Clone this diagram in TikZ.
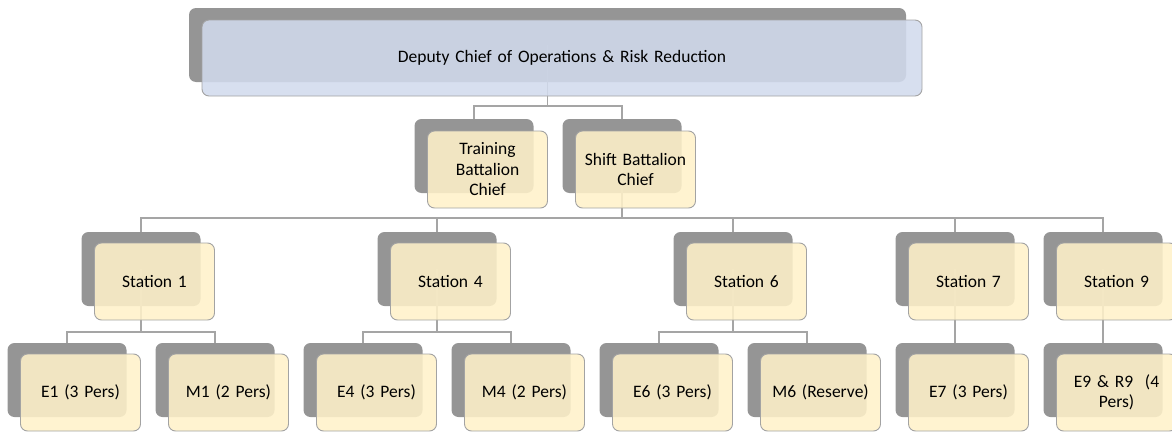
\documentclass[tikz,border=0pt]{standalone}
\usepackage{fontspec}
\setmainfont{Carlito}
\usetikzlibrary{calc}
\definecolor{backgray}{HTML}{959595}
\definecolor{edgegray}{HTML}{A3A3A3}
\definecolor{linegray}{HTML}{A5A5A5}
\definecolor{paleyellow}{HTML}{FFF1C9}
\definecolor{paleblue}{HTML}{D1DAED}
\tikzset{
  backbox/.style={fill=backgray, draw=none, rounded corners=7pt, minimum width=119pt, minimum height=74pt, inner sep=0pt},
  frontbox/.style={fill=paleyellow, fill opacity=0.87, text opacity=1, draw=edgegray, line width=0.9pt, rounded corners=7pt,
     minimum width=120pt, minimum height=77pt, inner sep=2pt, align=center, text width=106pt,
     font=\fontsize{17.5}{20.5}\selectfont},
  conn/.style={draw=linegray, line width=1.3pt},
}
\begin{document}
\begin{tikzpicture}[x=1pt,y=-1pt]
\path[use as bounding box, clip] (0,0) rectangle (1172,431);
% ---- back (shadow) boxes ----
\node[backbox, minimum width=717pt] (topb) at (547.5,45) {};
\node[backbox] (trb) at (474,156) {};
\node[backbox] (shb) at (622,156) {};
\node[backbox] (s1b) at (141,269) {};
\node[backbox] (s4b) at (437,269) {};
\node[backbox] (s6b) at (733,269) {};
\node[backbox] (s7b) at (955,269) {};
\node[backbox] (s9b) at (1103,269) {};
\node[backbox] (e1b) at (67,380) {};
\node[backbox] (m1b) at (215,380) {};
\node[backbox] (e4b) at (363,380) {};
\node[backbox] (m4b) at (511,380) {};
\node[backbox] (e6b) at (659,380) {};
\node[backbox] (m6b) at (807,380) {};
\node[backbox] (e7b) at (955,380) {};
\node[backbox] (e9b) at (1103,380) {};
% ---- connectors ----
\draw[conn] (topb.center) |- (trb.north |- 0,106) -- (trb.north);
\draw[conn] (topb.center) |- (shb.north |- 0,106) -- (shb.north);
\foreach \s in {s1b,s4b,s6b,s7b,s9b}{
  \draw[conn] (shb.center) |- (\s.north |- 0,218) -- (\s.north);
}
\draw[conn] (s1b.center) |- (e1b.north |- 0,332) -- (e1b.north);
\draw[conn] (s1b.center) |- (m1b.north |- 0,332) -- (m1b.north);
\draw[conn] (s4b.center) |- (e4b.north |- 0,332) -- (e4b.north);
\draw[conn] (s4b.center) |- (m4b.north |- 0,332) -- (m4b.north);
\draw[conn] (s6b.center) |- (e6b.north |- 0,332) -- (e6b.north);
\draw[conn] (s6b.center) |- (m6b.north |- 0,332) -- (m6b.north);
\draw[conn] (s7b.center) -- (e7b.north);
\draw[conn] (s9b.center) -- (e9b.north);
% ---- front boxes ----
\node[frontbox, fill=paleblue, minimum width=720pt, minimum height=76pt, text width=700pt] (top) at ($(topb.center)+(14.5,13)$) {Deputy Chief of Operations \& Risk Reduction};
\node[frontbox] (tr) at ($(trb.center)+(13.5,13.5)$) {Training\\Battalion\\Chief};
\node[frontbox] (sh) at ($(shb.center)+(13.5,13.5)$) {Shift Battalion\\Chief};
\node[frontbox] (s1) at ($(s1b.center)+(13.5,12.5)$) {Station 1};
\node[frontbox] (s4) at ($(s4b.center)+(13.5,12.5)$) {Station 4};
\node[frontbox] (s6) at ($(s6b.center)+(13.5,12.5)$) {Station 6};
\node[frontbox] (s7) at ($(s7b.center)+(13.5,12.5)$) {Station 7};
\node[frontbox] (s9) at ($(s9b.center)+(13.5,12.5)$) {Station 9};
\node[frontbox] (e1) at ($(e1b.center)+(13.5,12.5)$) {E1 (3 Pers)};
\node[frontbox] (m1) at ($(m1b.center)+(13.5,12.5)$) {M1 (2 Pers)};
\node[frontbox] (e4) at ($(e4b.center)+(13.5,12.5)$) {E4 (3 Pers)};
\node[frontbox] (m4) at ($(m4b.center)+(13.5,12.5)$) {M4 (2 Pers)};
\node[frontbox] (e6) at ($(e6b.center)+(13.5,12.5)$) {E6 (3 Pers)};
\node[frontbox] (m6) at ($(m6b.center)+(13.5,12.5)$) {M6 (Reserve)};
\node[frontbox] (e7) at ($(e7b.center)+(13.5,12.5)$) {E7 (3 Pers)};
\node[frontbox] (e9) at ($(e9b.center)+(13.5,12.5)$) {E9 \& R9\ \ (4\\Pers)};
\end{tikzpicture}
\end{document}
